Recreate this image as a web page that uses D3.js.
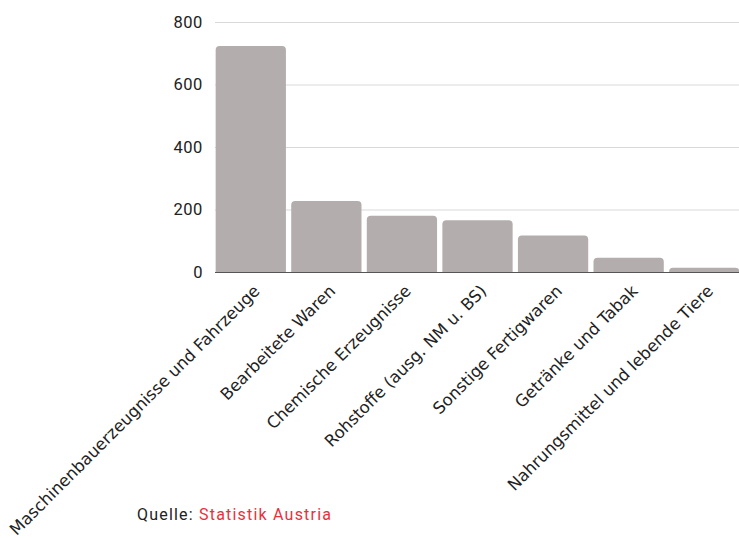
<!DOCTYPE html>
<html>
<head>
<meta charset="utf-8">
<script src="https://cdn.jsdelivr.net/npm/d3@7"></script>
<style>
  html, body { margin: 0; padding: 0; background: #fff; }
  svg { display: block; }
</style>
</head>
<body>
<svg id="chart" width="739" height="538"></svg>
<script>
const categories = [
  "Maschinenbauerzeugnisse und Fahrzeuge",
  "Bearbeitete Waren",
  "Chemische Erzeugnisse",
  "Rohstoffe (ausg. NM u. BS)",
  "Sonstige Fertigwaren",
  "Getränke und Tabak",
  "Nahrungsmittel und lebende Tiere"
];
const values = [723, 227, 180, 166, 117, 46, 14];
const yTicks = [0, 200, 400, 600, 800];
const sourceLabel = "Quelle: ";
const sourceName = "Statistik Austria";

const svg = d3.select("#chart");

const x = d3.scaleBand()
  .domain(categories)
  .range([213, 742])
  .paddingInner(0.07)
  .paddingOuter(0.035);

const y = d3.scaleLinear()
  .domain([0, 800])
  .range([272, 22]);

// gridlines
svg.append("g")
  .selectAll("line")
  .data(yTicks)
  .join("line")
  .attr("x1", 215)
  .attr("x2", 739)
  .attr("y1", d => y(d) + 0.5)
  .attr("y2", d => y(d) + 0.5)
  .attr("stroke", "#d9d9d9")
  .attr("stroke-width", 1);

// y-axis labels
const yAxis = d3.axisLeft(y).tickValues(yTicks).tickSize(0).tickPadding(0);
const yg = svg.append("g").attr("transform", "translate(203,0)").call(yAxis);
yg.select(".domain").remove();
yg.selectAll("text")
  .attr("font-family", "Roboto, sans-serif")
  .attr("font-size", 16.5)
  .attr("letter-spacing", 0.6)
  .attr("fill", "#222");

// bars with rounded top corners
const r = 4;
function barPath(x0, w, yTop, yBot) {
  const rr = Math.min(r, (yBot - yTop), w / 2);
  return `M${x0},${yBot}V${yTop + rr}Q${x0},${yTop} ${x0 + rr},${yTop}` +
         `H${x0 + w - rr}Q${x0 + w},${yTop} ${x0 + w},${yTop + rr}V${yBot}Z`;
}
svg.append("g")
  .selectAll("path")
  .data(categories)
  .join("path")
  .attr("d", (c, i) => barPath(x(c), x.bandwidth(), y(values[i]), y(0)))
  .attr("fill", "#b3aead");

// baseline
svg.append("line")
  .attr("x1", 215).attr("x2", 739)
  .attr("y1", y(0) + 0.5).attr("y2", y(0) + 0.5)
  .attr("stroke", "#555").attr("stroke-width", 1);

// category labels
const xAxis = d3.axisBottom(x).tickSize(0).tickPadding(0);
const xg = svg.append("g").attr("transform", `translate(0,${y(0)})`).call(xAxis);
xg.select(".domain").remove();
xg.selectAll("text")
  .style("font-family", "'DejaVu Sans', sans-serif")
  .style("font-size", "16.5px")
  .attr("fill", "#222")
  .attr("text-anchor", "end")
  .attr("dy", null)
  .attr("y", 0)
  .attr("transform", "translate(10,20) rotate(-45)");

// source
const src = svg.append("text")
  .attr("x", 137)
  .attr("y", 520)
  .style("font-family", "Roboto, sans-serif")
  .style("font-size", "16px")
  .attr("letter-spacing", 1.2);
src.append("tspan").attr("fill", "#222").text(sourceLabel);
src.append("tspan").attr("fill", "#e8303d").text(sourceName);
</script>
</body>
</html>
